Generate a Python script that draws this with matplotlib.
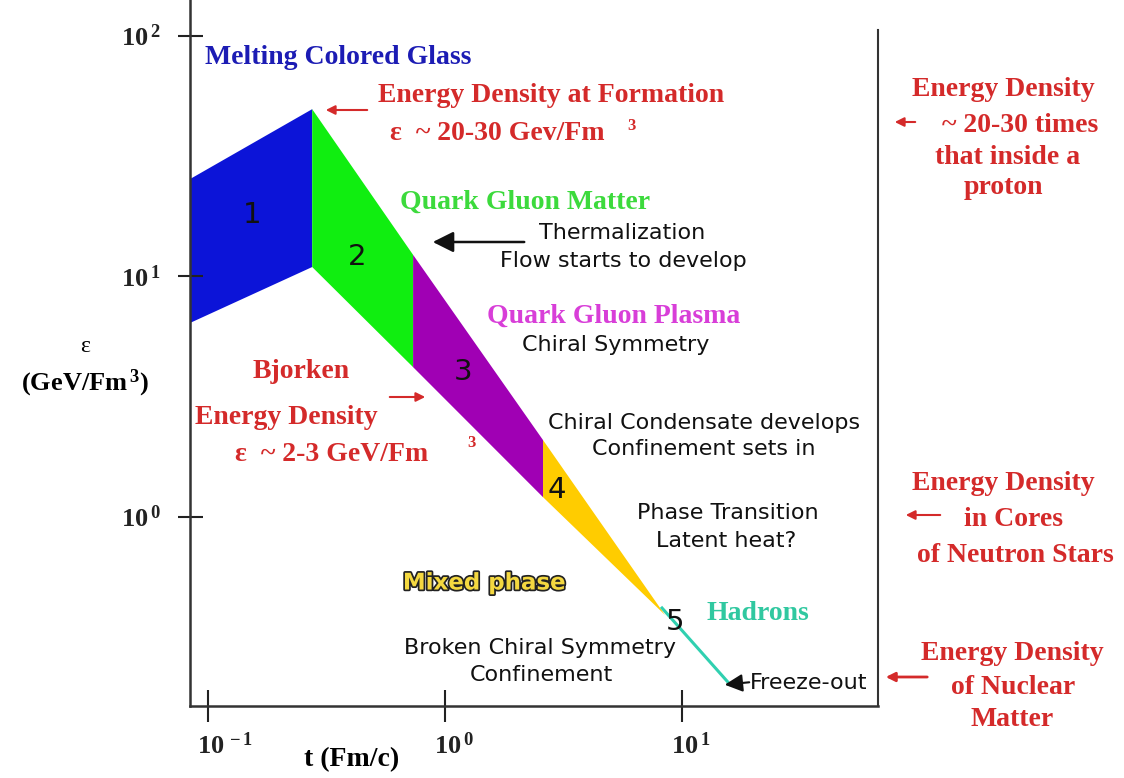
import numpy as np
import matplotlib
matplotlib.use('Agg')
import matplotlib.pyplot as plt
import matplotlib.patheffects as pe
from matplotlib.transforms import ScaledTranslation

# ---- data ----
t_edges = [0.0839, 0.275, 0.733, 2.59, 8.47]        # t (Fm/c) at the stage borders
eps_upper = [25.4, 49.6, 12.3, 2.09, 0.392]          # upper edge of the band
eps_lower = [6.41, 10.95, 4.20, 1.21, 0.392]         # lower edge of the band
stage_colors = ['#0c14d8', '#10ee10', '#a000b4', '#ffcc00']
stage_labels = ['1', '2', '3', '4']
hadron_t = [8.23, 15.9]
hadron_eps = [0.419, 0.202]

xlim = (0.0839, 67.1)
ylim = (0.164, 141)
x_ticks = [0.1, 1, 10]
x_ticklabels = [r'$10^{\,-1}$', r'$10^{\,0}$', r'$10^{\,1}$']
y_ticks = [1, 10, 100]
y_ticklabels = [r'$10^{\,0}$', r'$10^{\,1}$', r'$10^{\,2}$']

W, H = 1124, 778
plt.rcParams['mathtext.fontset'] = 'custom'
plt.rcParams['mathtext.rm'] = 'Liberation Serif:bold'
plt.rcParams['mathtext.it'] = 'Liberation Serif:bold'
plt.rcParams['mathtext.bf'] = 'Liberation Serif:bold'

SERIF = 'Liberation Serif'
SANS = 'DejaVu Sans'
RED = '#d42a2a'
FS = 20      # serif bold notes
FS_SANS = 16 # black sans notes

def px(x, y):
    # pixel position in the picture -> figure fraction
    return (x / W, 1 - y / H)

fig = plt.figure(figsize=(W / 100, H / 100), dpi=100)
ax = fig.add_axes([190 / W, 1 - 706 / H, (878 - 190) / W, 706 / H])
ax.set_xscale('log'); ax.set_yscale('log')
ax.set_xlim(xlim); ax.set_ylim(ylim)

# stages as quadrilaterals
for i in range(len(stage_colors)):
    xs = [t_edges[i], t_edges[i + 1], t_edges[i + 1], t_edges[i]]
    ys = [eps_upper[i], eps_upper[i + 1], eps_lower[i + 1], eps_lower[i]]
    ax.fill(xs, ys, color=stage_colors[i], lw=0)
ax.plot(hadron_t, hadron_eps, color='#30d0b0', lw=2.2)

# axes style
ax.spines['top'].set_visible(False)
ax.spines['right'].set_visible(False)
ax.spines['left'].set_linewidth(1.8); ax.spines['bottom'].set_linewidth(1.8)
ax.spines['left'].set_color('#333333'); ax.spines['bottom'].set_color('#333333')
ax.plot([xlim[1], xlim[1]], [ylim[0], 106], color='#333333', lw=1.5, clip_on=False)
ax.minorticks_off()
ax.set_xticks(x_ticks, labels=x_ticklabels)
ax.set_yticks(y_ticks, labels=y_ticklabels)
ax.tick_params(axis='x', direction='inout', length=23, width=1.5, pad=8, labelsize=19, colors='#222222')
ax.tick_params(axis='y', direction='inout', length=18, width=1.5, pad=12, labelsize=19, colors='#222222')
ax.minorticks_off()
# "10" sits on the tick, exponent hangs to the right
for lab in ax.get_xticklabels():
    lab.set_horizontalalignment('left')
    lab.set_transform(lab.get_transform() + ScaledTranslation(-0.11, 0, fig.dpi_scale_trans))

# axis titles
fig.text(*px(352, 760), 't (Fm/c)', family=SERIF, weight='bold', fontsize=20, ha='center', va='center')
fig.text(*px(85, 346), 'ε', family=SERIF, fontsize=17, ha='center', va='center')
fig.text(*px(85, 383), r'(GeV/Fm$^{\,3}$)', family=SERIF, weight='bold', fontsize=19, ha='center', va='center')

# stage numbers
for lab, (x, y) in zip(stage_labels + ['5'], [(252, 215), (357, 257), (463, 372), (557, 490), (675, 622)]):
    fig.text(*px(x, y), lab, family=SANS, fontsize=21, ha='center', va='center', color='#111111')

def bold(x, y, s, c, size=FS, ha='left'):
    fig.text(*px(x, y), s, family=SERIF, weight='bold', fontsize=size, color=c, ha=ha, va='center')

def plain(x, y, s, size=FS_SANS):
    fig.text(*px(x, y), s, family=SANS, fontsize=size, color='#111111', ha='center', va='center')

def arrow(x0, y0, x1, y1, c, w=1.5, hw=6):
    fig.add_artist(matplotlib.patches.FancyArrowPatch(px(x0, y0), px(x1, y1), transform=fig.transFigure,
                   arrowstyle='-|>,head_length=%g,head_width=%g' % (hw * 0.9, hw * 0.45),
                   color=c, lw=w, mutation_scale=1))

bold(205, 57, 'Melting Colored Glass', '#1c1cb4')
bold(378, 96, 'Energy Density at Formation', RED)
bold(390, 133, 'ε  ~ 20-30 Gev/Fm', RED)
bold(627, 126, '3', RED, 12)
arrow(370, 110, 323, 110, RED)
bold(400, 202, 'Quark Gluon Matter', '#3cda3c')
plain(622, 233, 'Thermalization')
plain(623, 261, 'Flow starts to develop')
arrow(527, 242, 430, 242, '#111111', 1.8, 14)
bold(487, 316, 'Quark Gluon Plasma', '#d83ed8')
plain(616, 345, 'Chiral Symmetry')

bold(301, 371, 'Bjorken', RED, FS, 'center')
bold(195, 417, 'Energy Density', RED)
bold(235, 455, 'ε  ~ 2-3 GeV/Fm', RED)
bold(467, 443, '3', RED, 12)
arrow(387, 397, 428, 397, RED)

plain(704, 423, 'Chiral Condensate develops')
plain(704, 449, 'Confinement sets in')
plain(728, 513, 'Phase Transition')
plain(726, 541, 'Latent heat?')
fig.text(*px(484, 583), 'Mixed phase', family=SANS, weight='bold', fontsize=16.5, color='#f4d840',
         ha='center', va='center', path_effects=[pe.withStroke(linewidth=2.5, foreground='#222222')])
bold(707, 613, 'Hadrons', '#30c8a0')
plain(540, 648, 'Broken Chiral Symmetry')
plain(541, 675, 'Confinement')
plain(809, 683, 'Freeze-out')
arrow(752, 682, 722, 685, '#111111', 1.5, 12)

# right hand notes
bold(1003, 89, 'Energy Density', RED, FS, 'center')
bold(1020, 125, '~ 20-30 times', RED, FS, 'center')
bold(1008, 157, 'that inside a', RED, FS, 'center')
bold(1003, 187, 'proton', RED, FS, 'center')
arrow(918, 122, 892, 122, RED)
bold(1003, 483, 'Energy Density', RED, FS, 'center')
bold(1013, 520, 'in Cores', RED, FS, 'center')
bold(1015, 555, 'of Neutron Stars', RED, FS, 'center')
arrow(943, 515, 903, 515, RED)
bold(1012, 653, 'Energy Density', RED, FS, 'center')
bold(1013, 688, 'of Nuclear', RED, FS, 'center')
bold(1012, 720, 'Matter', RED, FS, 'center')
arrow(930, 677, 883, 677, RED, 2)

fig.savefig('out.png', dpi=100)
